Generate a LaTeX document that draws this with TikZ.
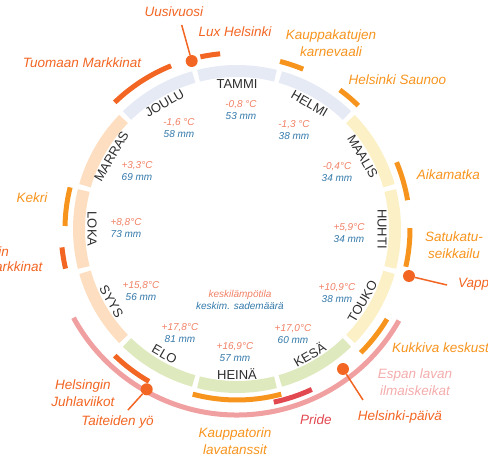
\documentclass[tikz,border=0pt]{standalone}
\usepackage{fontspec}
\setmainfont{Liberation Sans}
\usetikzlibrary{calc}
\definecolor{talvi}{RGB}{229,234,245}
\definecolor{kevat}{RGB}{252,240,199}
\definecolor{kesa}{RGB}{222,233,190}
\definecolor{syksy}{RGB}{253,222,192}
\definecolor{lampo}{RGB}{240,128,100}
\definecolor{sade}{RGB}{50,120,170}
\definecolor{tumma}{RGB}{242,101,34}
\definecolor{oranssi}{RGB}{247,148,29}
\definecolor{roosa}{RGB}{240,160,160}
\definecolor{roosateksti}{RGB}{244,172,172}
\definecolor{punainen}{RGB}{226,72,80}
\definecolor{harmaa}{RGB}{45,45,45}
\def\ringarc[#1](#2:#3:#4){\draw[#1] (#2:#4) arc (#2:#3:#4pt);}
\tikzset{
  kuukausi/.style={font=\fontsize{13}{13}\selectfont, text=harmaa, inner sep=0pt},
  lukema/.style={font=\fontsize{10}{12}\selectfont\itshape, align=center, inner sep=0pt},
  tapahtuma/.style={font=\fontsize{13.5}{17}\selectfont\itshape, align=center, inner sep=0pt},
  jakso/.style={line width=12pt},
  palkki/.style={line width=5pt},
  piste/.style={circle, fill=tumma, minimum size=12pt, inner sep=0pt},
  viiva/.style={line width=1.5pt, tumma},
}

\begin{document}
\begin{tikzpicture}[x=1pt, y=1pt]
			%%%%% START %%%%%
			\useasboundingbox (-237,-229) rectangle (251,229);
			
			\ringarc[jakso, talvi](104.1:75.9:158);
			\ringarc[jakso, talvi](74.1:45.9:158);
			\ringarc[jakso, kevat](44.1:15.9:158);
			\ringarc[jakso, kevat](14.1:-14.1:158);
			\ringarc[jakso, kevat](-15.9:-44.1:158);
			\ringarc[jakso, kesa](-45.9:-74.1:158);
			\ringarc[jakso, kesa](-75.9:-104.1:158);
			\ringarc[jakso, kesa](-105.9:-134.1:158);
			\ringarc[jakso, syksy](-135.9:-164.1:158);
			\ringarc[jakso, syksy](194.1:165.9:158);
			\ringarc[jakso, syksy](164.1:135.9:158);
			\ringarc[jakso, talvi](134.1:105.9:158);
			
			\node[kuukausi] (tammi) at (90:145) {TAMMI};
			\node[kuukausi, rotate=-30] (helmi) at (60:145) {HELMI};
			\node[kuukausi, rotate=-60] (maalis) at (30:145) {MAALIS};
			\node[kuukausi, rotate=-90] (huhti) at (0:145) {HUHTI};
			\node[kuukausi, rotate=60] (touko) at (-30:145) {TOUKO};
			\node[kuukausi, rotate=30] (kesa) at (-60:145) {KESÄ};
			\node[kuukausi] (heina) at (-90:145) {HEINÄ};
			\node[kuukausi, rotate=-30] (elo) at (-120:145) {ELO};
			\node[kuukausi, rotate=-60] (syys) at (-150:145) {SYYS};
			\node[kuukausi, rotate=-90] (loka) at (180:145) {LOKA};
			\node[kuukausi, rotate=60] (marras) at (150:145) {MARRAS};
			\node[kuukausi, rotate=30] (joulu) at (120:145) {JOULU};
			
			\node[lukema] (d-tammi) at (4, 118.5) {\textcolor{lampo}{-0,8 °C}\\\textcolor{sade}{53 mm}};
			\node[lukema] (d-helmi) at (57, 99) {\textcolor{lampo}{-1,3 °C}\\\textcolor{sade}{38 mm}};
			\node[lukema] (d-maalis) at (100, 57) {\textcolor{lampo}{-0,4°C}\\\textcolor{sade}{34 mm}};
			\node[lukema] (d-huhti) at (112, -4.5) {\textcolor{lampo}{+5,9°C}\\\textcolor{sade}{34 mm}};
			\node[lukema] (d-touko) at (100, -64) {\textcolor{lampo}{+10,9°C}\\\textcolor{sade}{38 mm}};
			\node[lukema] (d-kesa) at (56, -105.5) {\textcolor{lampo}{+17,0°C}\\\textcolor{sade}{60 mm}};
			\node[lukema] (d-heina) at (-2, -123) {\textcolor{lampo}{+16,9°C}\\\textcolor{sade}{57 mm}};
			\node[lukema] (d-elo) at (-57, -104) {\textcolor{lampo}{+17,8°C}\\\textcolor{sade}{81 mm}};
			\node[lukema] (d-syys) at (-96, -62) {\textcolor{lampo}{+15,8°C}\\\textcolor{sade}{56 mm}};
			\node[lukema] (d-loka) at (-111, 1) {\textcolor{lampo}{+8,8°C}\\\textcolor{sade}{73 mm}};
			\node[lukema] (d-marras) at (-100, 58) {\textcolor{lampo}{+3,3°C}\\\textcolor{sade}{69 mm}};
			\node[lukema] (d-joulu) at (-58, 101) {\textcolor{lampo}{-1,6 °C}\\\textcolor{sade}{58 mm}};
			\node[lukema] (selite) at (3, -71) {\textcolor{lampo}{keskilämpötila}\\\textcolor{sade}{keskim. sademäärä}};
			
			\ringarc[palkki, roosa](-29.5:-151.5:186);
			\ringarc[palkki, tumma](134:112:176);
			\ringarc[palkki, tumma](102:95.5:176);
			\ringarc[palkki, oranssi](75.6:67.5:173);
			\ringarc[palkki, oranssi](53.5:45.5:173);
			\ringarc[palkki, oranssi](22.7:9.6:173);
			\ringarc[palkki, oranssi](0.3:-12.6:173);
			\ringarc[palkki, oranssi](-31:-45:175);
			\ringarc[palkki, oranssi](-75:-105:171);
			\ringarc[palkki, punainen](-65:-78:177);
			\ringarc[palkki, tumma](-134:-120:176);
			\ringarc[palkki, oranssi](179:166:172);
			\ringarc[palkki, tumma](193:186:176);
			
			\node[piste] (uusivuosi-dot) at (-45.3, 168) {};
			\node[piste] (vappu-dot) at (172, -47) {};
			\node[piste] (hkipaiva-dot) at (106, -140) {};
			\node[piste] (taiteiden-dot) at (-90.3, -160.3) {};
			\coordinate (uusivuosi-end) at (-55.3, 204);
			\coordinate (vappu-end) at (210, -56);
			\coordinate (hkipaiva-end) at (126, -171);
			\coordinate (taiteiden-end) at (-109, -181);
			\draw[viiva] (uusivuosi-dot) -- (uusivuosi-end);
			\draw[viiva] (vappu-dot) -- (vappu-end);
			\draw[viiva] (hkipaiva-dot) -- (hkipaiva-end);
			\draw[viiva] (taiteiden-dot) -- (taiteiden-end);
			
			\node[tapahtuma, text=tumma, anchor=base] (uusivuosi) at (-63, 212.3) {Uusivuosi};
			\node[tapahtuma, text=tumma, anchor=base] (lux) at (-2, 192) {Lux Helsinki};
			\node[tapahtuma, text=tumma, anchor=base] (tuomaan) at (-155, 161) {Tuomaan Markkinat};
			\node[tapahtuma, text=oranssi] (karnevaali) at (94, 185.5) {Kauppakatujen\\karnevaali};
			\node[tapahtuma, text=oranssi, anchor=base] (saunoo) at (160.5, 144) {Helsinki Saunoo};
			\node[tapahtuma, text=oranssi, anchor=base] (aikamatka) at (211.5, 49) {Aikamatka};
			\node[tapahtuma, text=oranssi] (satukatu) at (217, -16) {Satukatu-\\seikkailu};
			\node[tapahtuma, text=tumma, anchor=base west] (vappu) at (221, -59) {Vappu};
			\node[tapahtuma, text=oranssi, anchor=base west] (kukkiva) at (155, -124) {Kukkiva keskusta};
			\node[tapahtuma, text=roosateksti] (espa) at (178, -153.4) {Espan lavan\\ilmaiskeikat};
			\node[tapahtuma, text=tumma, anchor=base] (hkipaiva) at (163, -191) {Helsinki-päivä};
			\node[tapahtuma, text=punainen, anchor=base] (pride) at (79, -195) {Pride};
			\node[tapahtuma, text=oranssi] (lavatanssit) at (-2, -212.6) {Kauppatorin\\lavatanssit};
			\node[tapahtuma, text=tumma] (juhlaviikot) at (-154, -163.9) {Helsingin\\Juhlaviikot};
			\node[tapahtuma, text=tumma, anchor=base] (taiteiden) at (-119.5, -196) {Taiteiden yö};
			\node[tapahtuma, text=oranssi, anchor=base] (kekri) at (-205, 26) {Kekri};
			\node[tapahtuma, text=tumma, anchor=base east] (silakka-a) at (-228, -27.7) {Helsingin};
			\node[tapahtuma, text=tumma, anchor=base east] (silakka-b) at (-194.3, -42.7) {Silakkamarkkinat};
			%%%%% END %%%%%
\end{tikzpicture}
\end{document}
